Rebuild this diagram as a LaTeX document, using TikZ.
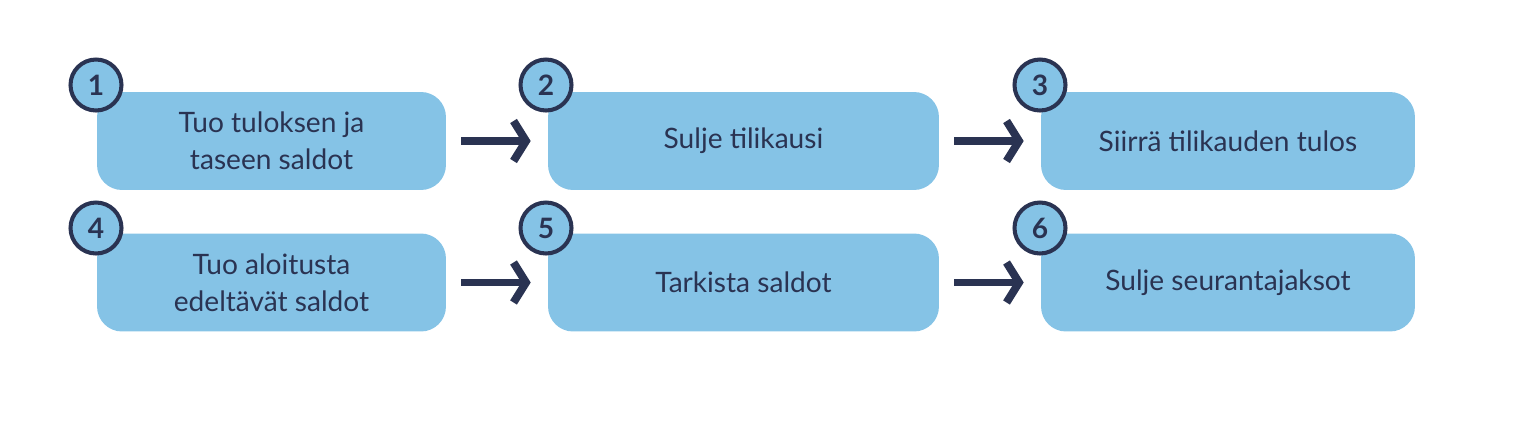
\documentclass[tikz,border=0pt]{standalone}
\usepackage{fontspec}
\setmainfont{Lato}
\usetikzlibrary{arrows.meta}
\definecolor{boxblue}{HTML}{85C3E6}
\definecolor{navy}{HTML}{2A3352}
\tikzset{
  stepbox/.style={fill=boxblue, rounded corners=0.5cm, minimum height=1.96cm,
    align=center, text=navy, font=\fontsize{16}{21}\selectfont},
  numdot/.style={circle, fill=boxblue, draw=navy, line width=2.3pt,
    minimum size=1.02cm, inner sep=0pt, text=navy, font=\fontsize{16}{18}\selectfont\bfseries},
  flow/.style={navy, line width=4.5pt, -{Straight Barb[length=2.5mm,width=8mm]},
    shorten <=0.3cm, shorten >=0.34cm}
}
\begin{document}
\begin{tikzpicture}[x=0.02cm,y=-0.02cm]
  \useasboundingbox (0,0) rectangle (1529,423);
  % first row
  \node[stepbox, minimum width=6.98cm] (b1) at (271.5,141) {Tuo tuloksen ja\\taseen saldot};
  \node[stepbox, minimum width=7.82cm] (b2) at (743.5,141) {Sulje tilikausi};
  \node[stepbox, minimum width=7.48cm] (b3) at (1228,141) {Siirrä tilikauden tulos};
  % second row
  \node[stepbox, minimum width=6.98cm] (b4) at (271.5,282.5) {Tuo aloitusta\\edeltävät saldot};
  \node[stepbox, minimum width=7.82cm] (b5) at (743.5,282.5) {Tarkista saldot};
  \node[stepbox, minimum width=7.48cm] (b6) at (1228,282.5) {Sulje seurantajaksot};
  % numbers
  \node[numdot] (n1) at (96,85) {1};
  \node[numdot] (n2) at (546,85) {2};
  \node[numdot] (n3) at (1040,85) {3};
  \node[numdot] (n4) at (96,228) {4};
  \node[numdot] (n5) at (546,228) {5};
  \node[numdot] (n6) at (1040,228) {6};
  % arrows
  \draw[flow] (b1.east) -- (b2.west);
  \draw[flow] (b2.east) -- (b3.west);
  \draw[flow] (b4.east) -- (b5.west);
  \draw[flow] (b5.east) -- (b6.west);
\end{tikzpicture}
\end{document}
